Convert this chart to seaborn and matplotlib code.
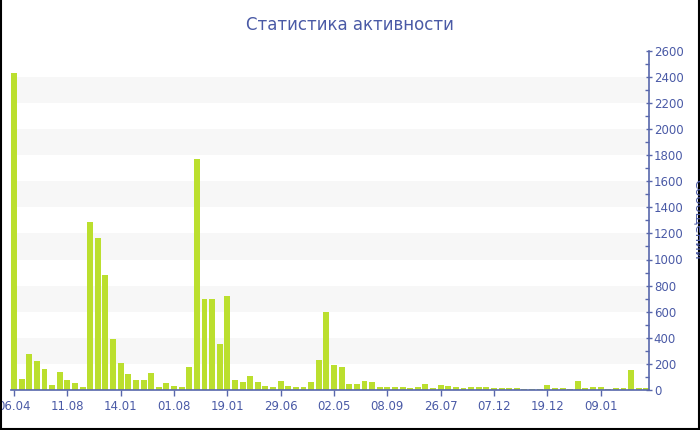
import matplotlib
matplotlib.use('Agg')
import matplotlib.pyplot as plt
from matplotlib.lines import Line2D
from matplotlib.ticker import MultipleLocator
import seaborn as sns
import pandas as pd

# messages per period (84 bars)
messages = [
    2430, 84, 276, 222, 163, 38, 138, 74, 54, 26,
    1284, 1162, 881, 391, 204, 123, 77, 77, 128, 23,
    51, 31, 23, 174, 1767, 700, 697, 352, 720, 77,
    59, 107, 61, 31, 20, 69, 28, 23, 20, 61,
    230, 597, 194, 176, 49, 46, 69, 64, 23, 23,
    23, 26, 18, 23, 46, 18, 38, 33, 20, 15,
    23, 23, 23, 13, 13, 13, 18, 10, 10, 10,
    38, 13, 13, 10, 72, 15, 23, 23, 8, 18,
    13, 156, 15, 15,
]
tick_labels = ['06.04', '11.08', '14.01', '01.08', '19.01', '29.06',
               '02.05', '08.09', '26.07', '07.12', '19.12', '09.01']
tick_step = 7

title = 'Статистика активности'
ylabel = 'Сообщений'

BAR = '#BBDF2E'
BLUE = '#4A5AA6'
AXIS = '#5867AC'

df = pd.DataFrame({'idx': range(len(messages)), 'messages': messages})

sns.set_style('white')
plt.rcParams['font.family'] = ['DejaVu Sans']

fig = plt.figure(figsize=(7, 4.3), dpi=100)
ax = fig.add_axes([11 / 700, 40 / 430, 638 / 700, 339.3 / 430])

# alternating light bands
for lo in range(200, 2600, 400):
    ax.axhspan(lo, lo + 200, color='#F7F7F7', zorder=0, lw=0)

sns.barplot(data=df, x='idx', y='messages', color=BAR, saturation=1,
            width=0.78, linewidth=0, ax=ax, zorder=2)

ax.set_xlim(-0.4, len(messages) - 0.65)
ax.set_ylim(0, 2600)

ax.set_xticks([i * tick_step for i in range(len(tick_labels))])
ax.set_xticklabels(tick_labels)
ax.set_xlabel('')
ax.set_ylabel('')

ax.yaxis.tick_right()
ax.yaxis.set_major_locator(MultipleLocator(200))
ax.yaxis.set_minor_locator(MultipleLocator(100))

for s in ['left', 'top']:
    ax.spines[s].set_visible(False)
for s in ['right', 'bottom']:
    ax.spines[s].set_color(AXIS)
    ax.spines[s].set_linewidth(1.2)
    ax.spines[s].set_zorder(3)

ax.tick_params(axis='x', which='major', bottom=True, direction='out',
               length=4, width=1, color=AXIS, labelcolor=BLUE,
               labelsize=8.5, pad=3)
ax.tick_params(axis='y', which='major', right=True, left=False,
               direction='inout', length=5, width=1, color=AXIS,
               labelcolor=BLUE, labelsize=8.5, pad=1)
ax.tick_params(axis='y', which='minor', right=True, left=False,
               direction='in', length=3, width=1, color=AXIS)

fig.text(0.5, 1 - 25 / 430, title, ha='center', va='center',
         fontsize=12, color=BLUE)
fig.text(698 / 700, 0.49, ylabel, ha='center', va='center',
         rotation=270, fontsize=9.5, color=BLUE)

# frame around the image (left, right, bottom)
for xs, ys in [([0.0015, 0.0015], [0, 1]),
               ([0.9985, 0.9985], [0, 1]),
               ([0, 1], [0.0025, 0.0025])]:
    fig.add_artist(Line2D(xs, ys, color='black', lw=1.5,
                          transform=fig.transFigure))

fig.savefig('out.png', dpi=100)
